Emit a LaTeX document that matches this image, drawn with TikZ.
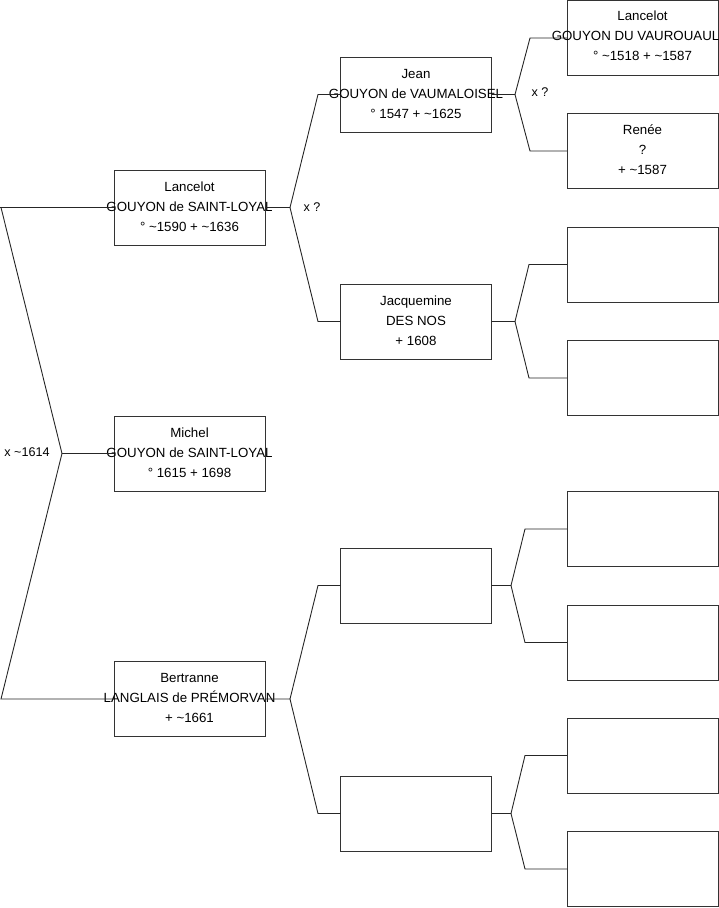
\documentclass[tikz,border=0pt]{standalone}
\usepackage{fontspec}
\setmainfont{Liberation Sans}
\begin{document}
\begin{tikzpicture}[x=1pt,y=-1pt,
  pbox/.style={draw=black!80,line width=0.9pt,minimum width=151pt,minimum height=75pt,inner sep=0pt,outer sep=0pt},
  ptext/.style={align=center,font=\fontsize{13.3}{20}\selectfont,inner sep=0pt},
  conn/.style={draw=black!85,line width=0.9pt},
  lbl/.style={font=\fontsize{12.6}{14}\selectfont,inner sep=0pt}]
\useasboundingbox (0,0) rectangle (719,908);
% boxes
\node[pbox] (B1) at (189.5,207.5) {};
\node[pbox] (B2) at (189.5,453.5) {};
\node[pbox] (B3) at (189.5,699) {};
\node[pbox] (C1) at (416,94.5) {};
\node[pbox] (C2) at (416,321.5) {};
\node[pbox] (C3) at (416,585.5) {};
\node[pbox] (C4) at (416,813.5) {};
\node[pbox] (D1) at (642.5,38) {};
\node[pbox] (D2) at (642.5,151) {};
\node[pbox] (D3) at (642.5,264.5) {};
\node[pbox] (D4) at (642.5,378) {};
\node[pbox] (D5) at (642.5,529) {};
\node[pbox] (D6) at (642.5,642.5) {};
\node[pbox] (D7) at (642.5,755.5) {};
\node[pbox] (D8) at (642.5,869) {};
% texts
\node[ptext] (tB1) at ([yshift=1pt]B1.center) {Lancelot\\GOUYON de SAINT-LOYAL\\° \textasciitilde1590 + \textasciitilde1636};
\node[ptext] (tB2) at ([yshift=1pt]B2.center) {Michel\\GOUYON de SAINT-LOYAL\\° 1615 + 1698};
\node[ptext] (tB3) at ([yshift=1pt]B3.center) {Bertranne\\LANGLAIS de PRÉMORVAN\\+ \textasciitilde1661};
\node[ptext] (tC1) at ([yshift=1pt]C1.center) {Jean\\GOUYON de VAUMALOISEL\\° 1547 + \textasciitilde1625};
\node[ptext] (tC2) at ([yshift=1pt]C2.center) {Jacquemine\\DES NOS\\+ 1608};
\node[ptext,anchor=base] (tD1a) at ([yshift=18pt]D1.center) {Lancelot};
\node[ptext,anchor=base,xshift=-7pt] (tD1b) at ([yshift=-2pt]D1.center) {GOUYON DU VAUROUAUL};
\node[ptext,anchor=base] (tD1c) at ([yshift=-22pt]D1.center) {° \textasciitilde1518 + \textasciitilde1587};
\node[ptext] (tD2) at ([yshift=1pt]D2.center) {Renée\\?\\+ \textasciitilde1587};
% junction coordinates
\coordinate (j0) at (62,453.5);
\coordinate (a0) at (1,207.5);
\coordinate (b0) at (1,699);
\coordinate (j1) at (290,207.5);
\coordinate (a1) at (318,94.5);
\coordinate (b1) at (318,321.5);
\coordinate (j3) at (290,699);
\coordinate (a3) at (318,585.5);
\coordinate (b3) at (318,813.5);
\coordinate (jc1) at (515,94.5);
\coordinate (ac1) at (530,38);
\coordinate (bc1) at (530,151);
\coordinate (jc2) at (515,321.5);
\coordinate (ac2) at (529,264.5);
\coordinate (bc2) at (529,378);
\coordinate (jc3) at (511,585.5);
\coordinate (ac3) at (525,529);
\coordinate (bc3) at (525,642.5);
\coordinate (jc4) at (511,813.5);
\coordinate (ac4) at (525,755.5);
\coordinate (bc4) at (525,869);
\coordinate (e0) at (0,207.5);
% connectors
\draw[conn] (B2.west) -- (j0) -- (a0) -- (B1.west);
\draw[conn] (j0) -- (b0) -- (B3.west);
\draw[conn] (a0) -- (e0);
\draw[conn] (B1.east) -- (j1) -- (a1) -- (C1.west);
\draw[conn] (j1) -- (b1) -- (C2.west);
\draw[conn] (B3.east) -- (j3) -- (a3) -- (C3.west);
\draw[conn] (j3) -- (b3) -- (C4.west);
\draw[conn] (C1.east) -- (jc1) -- (ac1) -- (D1.west);
\draw[conn] (jc1) -- (bc1) -- (D2.west);
\draw[conn] (C2.east) -- (jc2) -- (ac2) -- (D3.west);
\draw[conn] (jc2) -- (bc2) -- (D4.west);
\draw[conn] (C3.east) -- (jc3) -- (ac3) -- (D5.west);
\draw[conn] (jc3) -- (bc3) -- (D6.west);
\draw[conn] (C4.east) -- (jc4) -- (ac4) -- (D7.west);
\draw[conn] (jc4) -- (bc4) -- (D8.west);
% labels
\node[lbl] (l0) at (27,452) {x \textasciitilde1614};
\node[lbl] (l1) at (312,207) {x ?};
\node[lbl] (l2) at (540,92) {x ?};
\end{tikzpicture}
\end{document}
